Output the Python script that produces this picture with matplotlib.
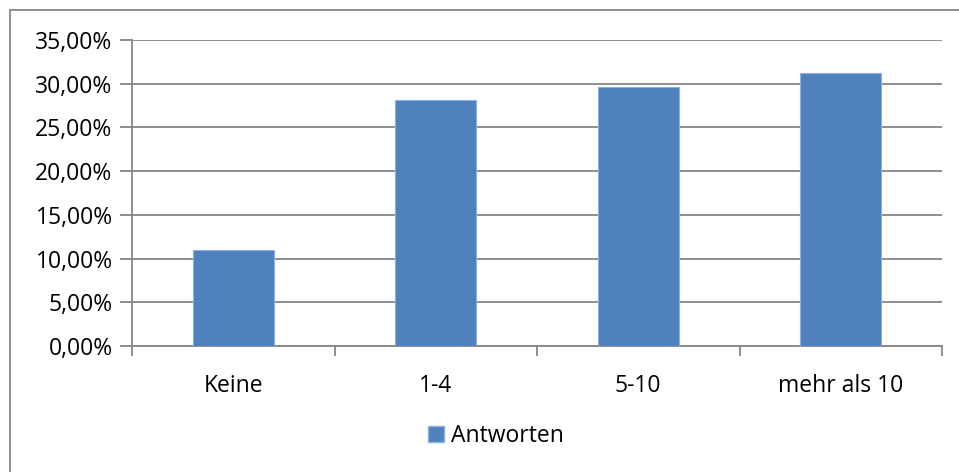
import matplotlib
matplotlib.use('Agg')
import matplotlib.pyplot as plt
import matplotlib.ticker as ticker
from matplotlib.patches import Rectangle, Patch

kategorien = ['Keine', '1-4', '5-10', 'mehr als 10']
antworten = [0.1097, 0.2815, 0.2968, 0.3127]
y_ticks = [0.0, 0.05, 0.10, 0.15, 0.20, 0.25, 0.30, 0.35]

blau = '#4F81BD'
grau = '#868686'

plt.rcParams['font.family'] = ['Open Sans', 'DejaVu Sans']
plt.rcParams['font.size'] = 16.5

fig = plt.figure(figsize=(9.59, 4.72), dpi=100)
ax = fig.add_axes([132/959, 1 - 346/472, (942-132)/959, (346-40)/472])

# aeusserer Rahmen wie im Excel-Diagramm
fig.patches.append(Rectangle((10/959, -0.05), 1.0, 1 - 10/472 + 0.05,
                             transform=fig.transFigure, fill=False,
                             edgecolor=grau, linewidth=1.3))

x = range(len(kategorien))
ax.bar(x, antworten, width=0.4, color=blau, edgecolor='#8EB0DC', linewidth=0.8,
       zorder=3, label='Antworten')

ax.set_xlim(-0.5, len(kategorien) - 0.5)
ax.set_ylim(0, 0.35)
ax.set_yticks(y_ticks)
ax.yaxis.set_major_formatter(ticker.FuncFormatter(
    lambda v, p: f'{v*100:.2f}%'.replace('.', ',')))
ax.set_xticks(list(x))
ax.set_xticklabels(kategorien)
ax.set_xticks([i - 0.5 for i in range(len(kategorien) + 1)], minor=True)

ax.grid(axis='y', color=grau, linewidth=1.3, zorder=0)
ax.tick_params(axis='x', which='major', length=0, pad=20, colors='black')
ax.tick_params(axis='x', which='minor', length=7, width=1.3, color=grau)
ax.tick_params(axis='y', length=9, width=1.3, color=grau, pad=5)

for s in ['top', 'right']:
    ax.spines[s].set_visible(False)
for s in ['left', 'bottom']:
    ax.spines[s].set_color(grau)
    ax.spines[s].set_linewidth(1.3)

fig.legend(handles=[Patch(facecolor=blau, edgecolor='#8EB0DC', label='Antworten')],
           loc='center', bbox_to_anchor=(496/959, 1 - 436/472), frameon=False,
           handlelength=0.7, handleheight=0.7, handletextpad=0.3)

fig.savefig('out.png', dpi=100)
